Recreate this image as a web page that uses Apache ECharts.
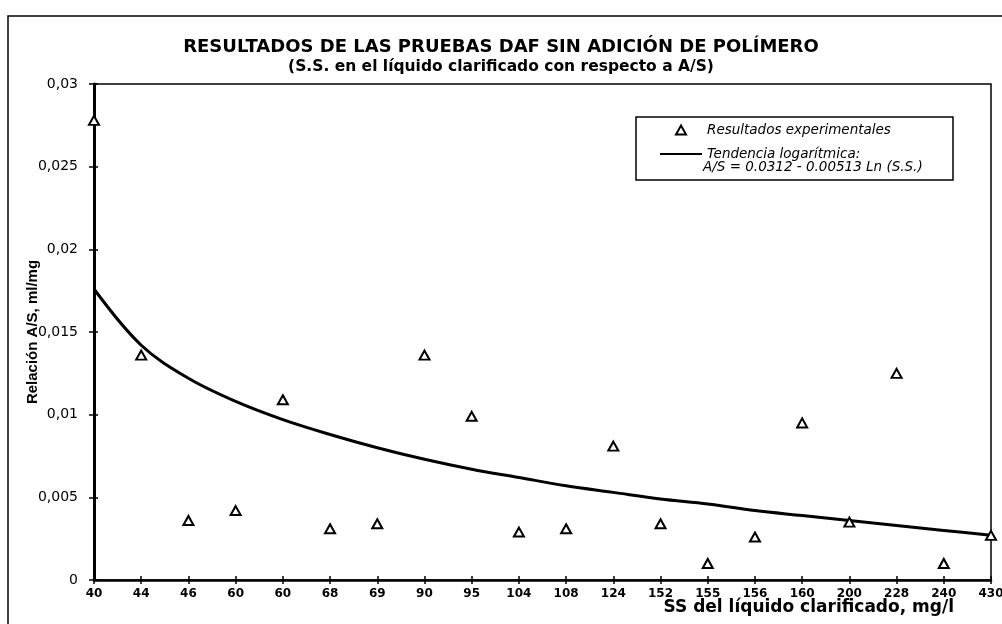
<!DOCTYPE html>
<html>
<head>
<meta charset="utf-8">
<script src="https://cdn.jsdelivr.net/npm/echarts@6/dist/echarts.min.js"></script>
<style>
  html, body { margin: 0; padding: 0; background: #fff; }
  #chart { width: 1002px; height: 624px; }
</style>
</head>
<body>
<div id="chart"></div>
<script>
// SS in the clarified liquid (mg/l), one category per test
const ssCategories = ['40', '44', '46', '60', '60', '68', '69', '90', '95', '104',
                      '108', '124', '152', '155', '156', '160', '200', '228', '240', '430'];

// Measured A/S ratio (ml/mg) for each test
const asMeasured = [0.0278, 0.0136, 0.0036, 0.0042, 0.0109, 0.0031, 0.0034, 0.0136, 0.0099, 0.0029,
                    0.0031, 0.0081, 0.0034, 0.0010, 0.0026, 0.0095, 0.0035, 0.0125, 0.0010, 0.0027];

// Logarithmic trend line, value at each category
const asTrend = [0.0176, 0.0142, 0.0122, 0.0108, 0.0097, 0.0088, 0.0080, 0.0073, 0.0067, 0.0062,
                 0.0057, 0.0053, 0.0049, 0.0046, 0.0042, 0.0039, 0.0036, 0.0033, 0.0030, 0.0027];

const yTicks = ['0', '0,005', '0,01', '0,015', '0,02', '0,025', '0,03'];

const titleMain = 'RESULTADOS DE LAS PRUEBAS DAF SIN ADICIÓN DE POLÍMERO';
const titleSub = '(S.S. en el líquido clarificado con respecto a A/S)';
const xAxisTitle = 'SS del líquido clarificado, mg/l';
const trendEquation = 'A/S = 0.0312 - 0.00513 Ln (S.S.)';

const chart = echarts.init(document.getElementById('chart'), null, { renderer: 'canvas' });

const axisBlack = '#000';

chart.setOption({
  backgroundColor: '#fff',
  animation: false,
  title: {
    text: titleMain,
    subtext: titleSub,
    left: 'center',
    top: 33,
    itemGap: 3,
    textStyle: { fontFamily: 'DejaVu Sans', fontWeight: 'bold', fontSize: 18, color: '#000' },
    subtextStyle: { fontFamily: 'DejaVu Sans', fontWeight: 'bold', fontSize: 15.5, color: '#000' }
  },
  grid: {
    left: 94, right: 11, top: 84, bottom: 44,
    containLabel: false,
    outerBoundsMode: 'none',
    show: true, borderColor: '#000', borderWidth: 1.5, backgroundColor: '#fff'
  },
  legend: {
    orient: 'vertical',
    left: 655, top: 118,
    itemWidth: 42, itemHeight: 9, itemGap: 10,
    data: [
      {
        name: 'Resultados experimentales',
        icon: 'path://M5,0 L10,9 L0,9 Z',
        itemStyle: { color: '#fff', borderColor: '#000', borderWidth: 2 }
      },
      {
        name: 'Tendencia logarítmica:',
        icon: 'path://M0,0 L42,0 L42,2 L0,2 Z',
        itemStyle: { color: '#000', borderWidth: 0 }
      }
    ],
    textStyle: { fontFamily: 'DejaVu Sans', fontStyle: 'italic', fontSize: 13.5, color: '#000' }
  },
  xAxis: [
    {
      type: 'category',
      data: ssCategories,
      boundaryGap: false,
      axisLine: { lineStyle: { color: axisBlack, width: 2.5 } },
      axisTick: { show: true, length: 4, lineStyle: { color: axisBlack, width: 1.5 } },
      axisLabel: {
        interval: 0, margin: 8, color: '#000',
        fontFamily: 'DejaVu Sans', fontWeight: 'bold', fontSize: 12
      },
      splitLine: { show: false }
    },
    {
      // inner half of the crossing ticks
      type: 'category',
      data: ssCategories,
      boundaryGap: false,
      position: 'bottom',
      axisLine: { show: false },
      axisTick: { show: true, inside: true, length: 4, lineStyle: { color: axisBlack, width: 1.5 } },
      axisLabel: { show: false },
      splitLine: { show: false }
    }
  ],
  yAxis: [
    {
      type: 'value',
      min: 0, max: 0.03, interval: 0.005,
      axisLine: { show: true, lineStyle: { color: axisBlack, width: 3 } },
      axisTick: { show: true, length: 5, lineStyle: { color: axisBlack, width: 1.5 } },
      axisLabel: {
        margin: 16, color: '#000',
        fontFamily: 'DejaVu Sans', fontSize: 14,
        formatter: (v) => yTicks[Math.round(v / 0.005)]
      },
      splitLine: { show: false },
      name: 'Relación A/S, ml/mg',
      nameLocation: 'middle',
      nameGap: 54,
      nameMoveOverlap: false,
      nameRotate: 90,
      nameTextStyle: { fontFamily: 'Liberation Sans', fontWeight: 'bold', fontSize: 15, color: '#000' }
    },
    {
      type: 'value',
      min: 0, max: 0.03, interval: 0.005,
      position: 'left',
      axisLine: { show: false },
      axisTick: { show: true, inside: true, length: 4, lineStyle: { color: axisBlack, width: 1.5 } },
      axisLabel: { show: false },
      splitLine: { show: false }
    }
  ],
  series: [
    {
      name: 'Tendencia logarítmica:',
      type: 'line',
      data: asTrend,
      smooth: 0.35,
      symbol: 'none',
      z: 2,
      lineStyle: { color: '#000', width: 3 },
      itemStyle: { color: '#000' }
    },
    {
      name: 'Resultados experimentales',
      type: 'scatter',
      data: asMeasured,
      symbol: 'triangle',
      symbolSize: [10, 9],
      z: 3,
      itemStyle: { color: '#fff', borderColor: '#000', borderWidth: 2, opacity: 1 }
    }
  ],
  graphic: [
    {
      // outer frame of the figure
      type: 'rect',
      shape: { x: 8, y: 16, width: 1010, height: 620 },
      style: { fill: null, stroke: '#000', lineWidth: 1.5 },
      silent: true
    },
    {
      // legend box
      type: 'rect',
      shape: { x: 636, y: 117, width: 317, height: 63 },
      style: { fill: null, stroke: '#000', lineWidth: 1.5 },
      z: 10, silent: true
    },
    {
      type: 'text',
      left: 703, top: 160,
      style: {
        text: trendEquation,
        fontFamily: 'DejaVu Sans', fontStyle: 'italic', fontSize: 13.5, fill: '#000'
      },
      z: 10
    },
    {
      // x axis title, set at the right under the tick labels
      type: 'text',
      right: 48, top: 599,
      style: {
        text: xAxisTitle,
        fontFamily: 'DejaVu Sans', fontWeight: 'bold', fontSize: 17, fill: '#000'
      },
      z: 10
    }
  ]
});
</script>
</body>
</html>
